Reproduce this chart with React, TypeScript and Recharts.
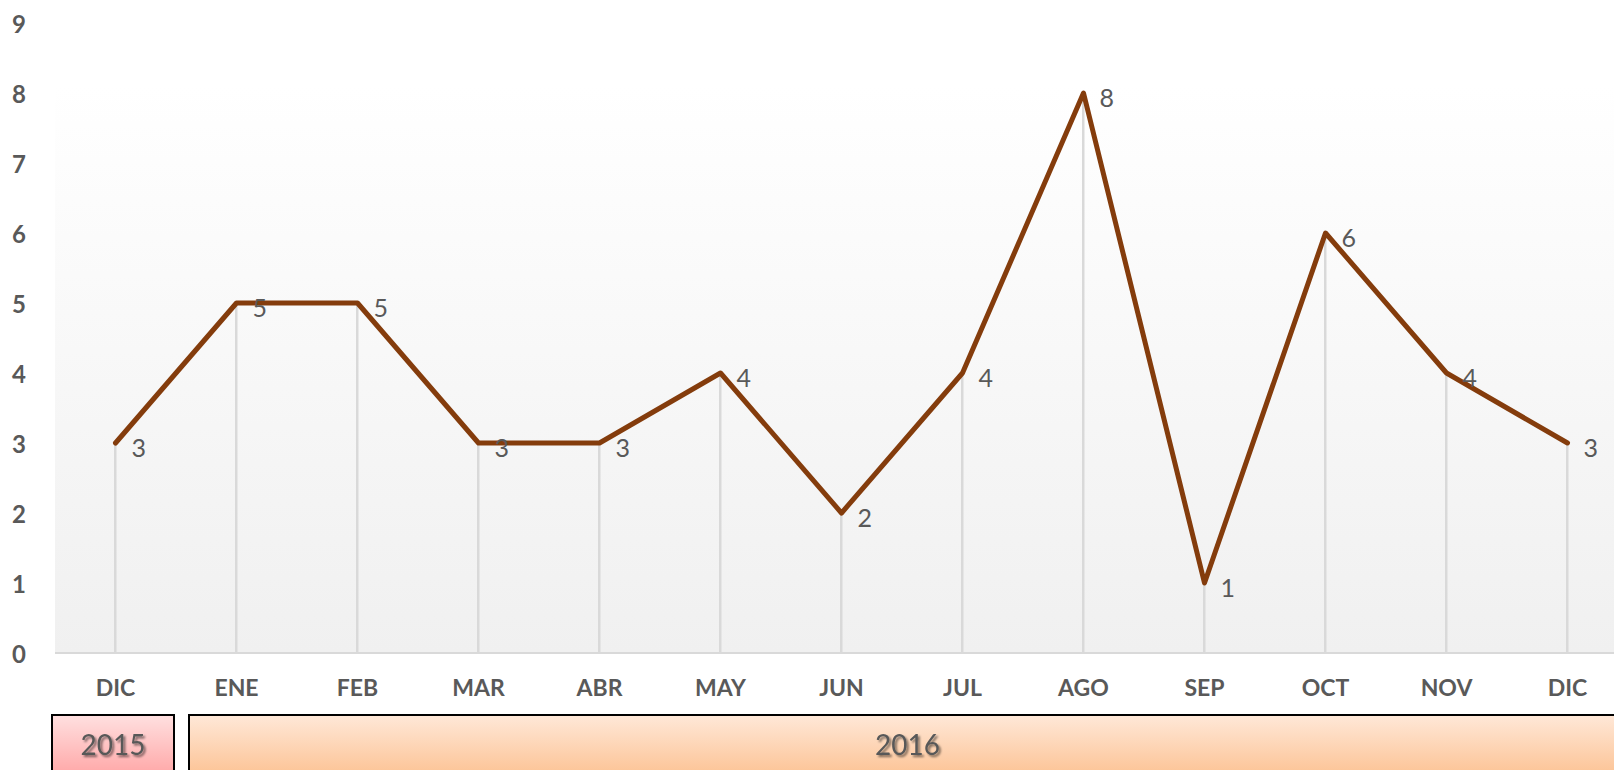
import React from "react";
import { ComposedChart, Line, Bar, XAxis, YAxis, CartesianGrid, LabelList } from "recharts";

const months = ["DIC", "ENE", "FEB", "MAR", "ABR", "MAY", "JUN", "JUL", "AGO", "SEP", "OCT", "NOV", "DIC"];
const years = ["2015", "2016", "2016", "2016", "2016", "2016", "2016", "2016", "2016", "2016", "2016", "2016", "2016"];
const values = [3, 5, 5, 3, 3, 4, 2, 4, 8, 1, 6, 4, 3];
const yTicks = [0, 1, 2, 3, 4, 5, 6, 7, 8, 9];

const data = months.map((m, i) => ({ key: `${m}-${i}`, month: m, year: years[i], value: values[i] }));

const FONT = "Lato, 'Open Sans', sans-serif";
const GRAY = "#595959";
const PLOT_LEFT = 55;
const PLOT_WIDTH = 1573;
const BAND = PLOT_WIDTH / months.length;
const CHART_W = PLOT_LEFT + PLOT_WIDTH;

const YTick = (props: any) => {
  const { y, payload } = props;
  return (
    <text x={19} y={y} textAnchor="middle" dominantBaseline="central" fill={GRAY} fontFamily={FONT} fontWeight={700} fontSize={24}>
      {payload.value}
    </text>
  );
};

const MonthTick = (props: any) => {
  const { x, y, index } = props;
  return (
    <text x={x} y={y + 32} textAnchor="middle" dominantBaseline="central" fill={GRAY} fontFamily={FONT} fontWeight={700} fontSize={23}>
      {months[index]}
    </text>
  );
};

const YearTick = (props: any) => {
  const { x, y, index } = props;
  if (index > 0 && years[index] === years[index - 1]) return <g />;
  let count = 1;
  while (index + count < years.length && years[index + count] === years[index]) count++;
  const left = x - BAND / 2 + (index === 0 ? -3 : 13);
  const right = x + (count - 1) * BAND + BAND / 2 - 2;
  const grad = years[index] === "2015" ? "url(#y2015)" : "url(#y2016)";
  return (
    <g>
      <rect x={left} y={y} width={right - left} height={80} fill={grad} stroke="#000" strokeWidth={2} />
      <text
        x={(left + right) / 2}
        y={y + 29}
        textAnchor="middle"
        dominantBaseline="central"
        fill={GRAY}
        fontFamily={FONT}
        fontSize={28}
        fontWeight={400}
        filter="url(#tshadow)"
      >
        {years[index]}
      </text>
    </g>
  );
};

const ValueLabel = (props: any) => {
  const { x, y, value } = props;
  return (
    <text x={x + 16} y={y + 4} dominantBaseline="central" fill={GRAY} fontFamily={FONT} fontSize={25}>
      {value}
    </text>
  );
};

export default function App() {
  return (
    <div style={{ position: "absolute", left: 0, top: 0, width: 1614, height: 770, overflow: "hidden", background: "#fff" }}>
      <ComposedChart
        width={CHART_W}
        height={770}
        data={data}
        margin={{ top: 23, right: 0, bottom: 0, left: 0 }}
        barCategoryGap={0}
      >
        <defs>
          <linearGradient id="bg" x1="0" y1="0" x2="0" y2="1">
            <stop offset="0" stopColor="#ffffff" />
            <stop offset="0.1" stopColor="#ffffff" />
            <stop offset="1" stopColor="#f0f0f0" />
          </linearGradient>
          <linearGradient id="y2015" x1="0" y1="0" x2="0" y2="1">
            <stop offset="0" stopColor="#ffe0e0" />
            <stop offset="1" stopColor="#ff9494" />
          </linearGradient>
          <linearGradient id="y2016" x1="0" y1="0" x2="0" y2="1">
            <stop offset="0" stopColor="#ffe8d8" />
            <stop offset="1" stopColor="#fbb77f" />
          </linearGradient>
          <filter id="tshadow" x="-20%" y="-20%" width="140%" height="160%">
            <feDropShadow dx="2" dy="2" stdDeviation="1.2" floodColor="#000" floodOpacity="0.5" />
          </filter>
        </defs>
        <CartesianGrid horizontal={false} vertical={false} fill="url(#bg)" />
        <XAxis
          xAxisId="m"
          dataKey="key"
          height={60}
          interval={0}
          tickLine={false}
          tickSize={0}
          axisLine={{ stroke: "#d9d9d9", strokeWidth: 2 }}
          tick={<MonthTick />}
        />
        <XAxis
          xAxisId="y"
          dataKey="key"
          height={57}
          interval={0}
          tickLine={false}
          tickSize={0}
          axisLine={false}
          tick={<YearTick />}
        />
        <YAxis
          width={PLOT_LEFT}
          domain={[0, 9]}
          ticks={yTicks}
          interval={0}
          axisLine={false}
          tickLine={false}
          tickSize={0}
          tick={<YTick />}
        />
        <Bar xAxisId="m" dataKey="value" barSize={2.5} fill="#d9d9d9" isAnimationActive={false} />
        <Line
          xAxisId="m"
          type="linear"
          dataKey="value"
          stroke="#843c0c"
          strokeWidth={5}
          strokeLinejoin="round"
          strokeLinecap="round"
          dot={false}
          activeDot={false}
          isAnimationActive={false}
        >
          <LabelList dataKey="value" content={<ValueLabel />} />
        </Line>
      </ComposedChart>
    </div>
  );
}
